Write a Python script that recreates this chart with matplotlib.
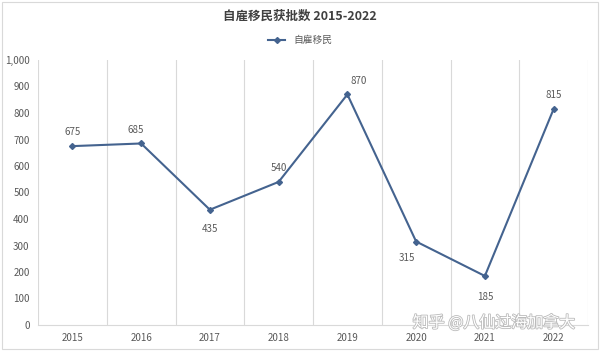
import matplotlib.pyplot as plt
import matplotlib.patheffects as pe

plt.rcParams['font.family'] = ['Noto Sans CJK SC', 'DejaVu Sans']

years = ["2015", "2016", "2017", "2018", "2019", "2020", "2021", "2022"]
values = [675, 685, 435, 540, 870, 315, 185, 815]
# label offsets in points (dx, dy)
label_off = [(0, 10), (-4, 10), (0, -14), (0, 10), (8, 10), (-7, -12), (0, -15), (0, 10)]

fig = plt.figure(figsize=(6, 3.51), dpi=100)
ax = fig.add_axes([38 / 600, 26 / 351, 550 / 600, 265 / 351])

x = list(range(len(years)))
line_color = "#44638F"
ax.plot(x, values, color=line_color, lw=1.5, marker="D", ms=3, label="自雇移民")

for i, v in enumerate(values):
    dx, dy = label_off[i]
    ax.annotate(str(v), (i, v), xytext=(dx, dy), textcoords="offset points",
                ha="center", va="center", fontsize=7, color="#595959")

ax.set_xlim(-0.5, len(years) - 0.5)
ax.set_ylim(0, 1000)
ax.set_yticks(range(0, 1001, 100))
ax.set_yticklabels([f"{t:,}" for t in range(0, 1001, 100)], fontsize=7, color="#595959")
ax.set_xticks(x)
ax.set_xticklabels(years, fontsize=7, color="#595959")
ax.tick_params(length=0, pad=6)

for b in [i - 0.5 for i in range(len(years) + 1)]:
    ax.axvline(b, color="#D9D9D9", lw=0.8, zorder=0)
for s in ["top", "right", "left"]:
    ax.spines[s].set_visible(False)
ax.spines["bottom"].set_color("#D9D9D9")

fig.text(0.5, 1 - 16 / 351, "自雇移民获批数 2015-2022", ha="center", va="center",
         fontsize=9, fontweight="bold", color="#404040")
fig.legend(loc="center", bbox_to_anchor=(0.5, 1 - 40 / 351), frameon=False,
           fontsize=7, labelcolor="#595959", handlelength=1.8)

fig.patches.append(plt.Rectangle((2 / 600, 2 / 351), 596 / 600, 347 / 351,
                                 transform=fig.transFigure, fill=False,
                                 edgecolor="#D9D9D9", lw=0.8))

fig.text(494 / 600, 1 - 323 / 351, "知乎 @八仙过海加拿大", ha="center", va="center",
         fontsize=11.5, color="white",
         path_effects=[pe.withStroke(linewidth=1.2, foreground="#BBBBBB")])

fig.savefig("out.png", dpi=100)
